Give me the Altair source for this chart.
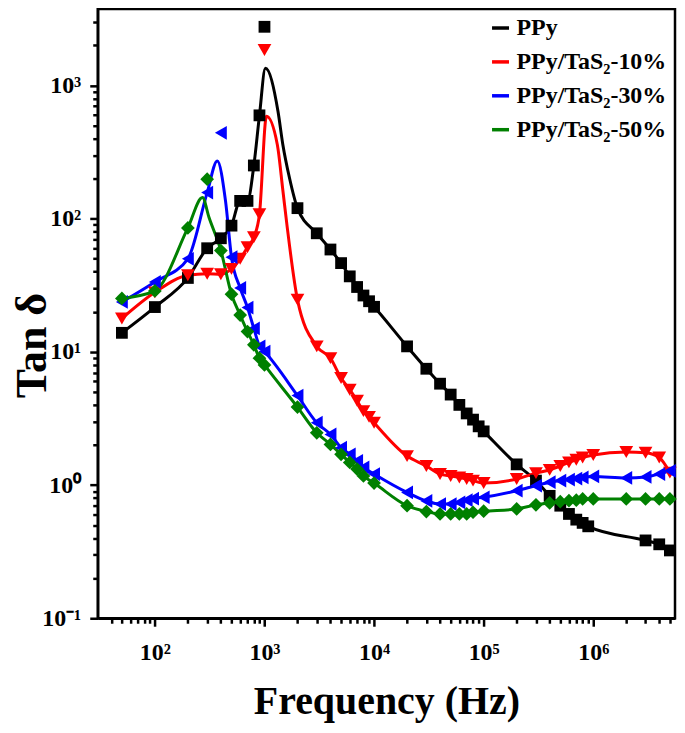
import altair as alt
import pandas as pd

# ---------------- data ----------------
series_names = ["PPy", "PPy/TaS\u2082-10%", "PPy/TaS\u2082-30%", "PPy/TaS\u2082-50%"]
series_colors = ["#000000", "#ff0000", "#0000ff", "#008000"]
series_shapes = ["square", "triangle-down", "triangle-left", "diamond"]

ppy_f = [50, 100, 200, 300, 400, 500, 600, 700, 800, 900, 1000, 2000, 3000, 4000, 5000, 6000,
         7000, 8000, 9000, 10000, 20000, 30000, 40000, 50000, 60000, 70000, 80000, 90000, 100000,
         200000, 300000, 400000, 500000, 600000, 700000, 800000, 900000, 3e6, 4e6, 5e6]
ppy_v = [13.9, 21.7, 35.9, 60, 71.3, 88.7, 136, 136, 251, 597, 2760, 120, 77.7, 58.7, 46.4, 36.9,
         30.7, 26.5, 24.0, 21.8, 11.0, 7.47, 5.77, 4.78, 4.0, 3.45, 3.1, 2.76, 2.53,
         1.43, 1.08, 0.83, 0.70, 0.607, 0.55, 0.52, 0.49, 0.384, 0.359, 0.323]
ppy_peak_f = [1000]                       # marker lying off the fitted curve
ppy_curve_f = [1020, 1328, 1470, 1690]    # extra points
ppy_curve_v = [1346, 640, 361, 203]

t10_f = [50, 100, 200, 300, 400, 500, 600, 700, 800, 900, 1000, 2000, 3000, 4000, 5000, 6000,
         7000, 8000, 9000, 10000, 20000, 30000, 40000, 50000, 60000, 70000, 80000, 100000,
         200000, 300000, 400000, 500000, 600000, 700000, 800000, 1e6, 2e6, 3e6, 4e6, 5e6]
t10_v = [17.8, 28, 37.6, 38.6, 38.3, 42, 50, 61, 72.6, 108, 1846, 24.7, 11.0, 8.97, 6.36, 5.2,
         4.3, 3.59, 3.25, 2.94, 1.65, 1.39, 1.21, 1.17, 1.14, 1.11, 1.08, 1.035,
         1.11, 1.23, 1.30, 1.39, 1.48, 1.55, 1.61, 1.68, 1.77, 1.75, 1.61, 1.24]
t10_peak_f = [1000]
t10_curve_f = [1043, 1309, 1473, 1600]
t10_curve_v = [587, 361, 162, 91]

t30_f = [50, 100, 200, 300, 400, 500, 600, 700, 800, 900, 1000, 2000, 3000, 4000, 5000, 6000,
         7000, 8000, 10000, 20000, 30000, 40000, 50000, 60000, 70000, 80000, 100000,
         200000, 300000, 400000, 500000, 600000, 700000, 800000, 1e6, 2e6, 3e6, 4e6, 5e6]
t30_v = [23.7, 33.5, 50, 157, 441, 51.4, 30.2, 21.5, 15.0, 11.0, 10.06, 4.7, 2.94, 2.4, 1.91, 1.70,
         1.52, 1.355, 1.21, 0.88, 0.76, 0.72, 0.72, 0.74, 0.77, 0.79, 0.81,
         0.907, 0.99, 1.05, 1.08, 1.10, 1.12, 1.14, 1.16, 1.13, 1.15, 1.21, 1.28]
t30_peak_f = [400]
t30_curve_f = [371, 441]
t30_curve_v = [271, 136]

t50_f = [50, 100, 200, 300, 400, 500, 600, 700, 800, 900, 1000, 2000, 3000, 4000, 5000, 6000,
         7000, 8000, 10000, 20000, 30000, 40000, 50000, 60000, 70000, 80000, 100000,
         200000, 300000, 400000, 500000, 600000, 700000, 800000, 1e6, 2e6, 3e6, 4e6, 5e6]
t50_v = [25.2, 28.7, 85.3, 198, 57.7, 27.1, 18.9, 14.2, 11.3, 8.97, 7.98, 3.85, 2.47, 2.02, 1.70, 1.48,
         1.32, 1.17, 1.035, 0.70, 0.632, 0.607, 0.607, 0.607, 0.607, 0.625, 0.636,
         0.662, 0.71, 0.734, 0.75, 0.763, 0.77, 0.786, 0.786, 0.786, 0.786, 0.786, 0.786]
t50_peak_f = [300]
t50_curve_f = [272, 312]
t50_curve_v = [144, 102]

x_major = [100, 1000, 10000, 100000, 1000000]
x_labels = ["10\u00b2", "10\u00b3", "10\u2074", "10\u2075", "10\u2076"]
y_major = [0.1, 1, 10, 100, 1000]
y_labels = ["10\u207b\u00b9", "10\u2070", "10\u00b9", "10\u00b2", "10\u00b3"]

x_domain = [30.1, 5.57e6]
y_domain = [0.1, 3750]

# ---------------- build tables ----------------
all_f = [ppy_f, t10_f, t30_f, t50_f]
all_v = [ppy_v, t10_v, t30_v, t50_v]
all_peak = [ppy_peak_f, t10_peak_f, t30_peak_f, t50_peak_f]
all_cf = [ppy_curve_f, t10_curve_f, t30_curve_f, t50_curve_f]
all_cv = [ppy_curve_v, t10_curve_v, t30_curve_v, t50_curve_v]

pts_rows, line_rows = [], []
for name, fs, vs, pk, cf, cv in zip(series_names, all_f, all_v, all_peak, all_cf, all_cv):
    for f, v in zip(fs, vs):
        pts_rows.append({"series": name, "f": f, "v": v})
        if f not in pk:
            line_rows.append({"series": name, "f": f, "v": v})
    for f, v in zip(cf, cv):
        line_rows.append({"series": name, "f": f, "v": v})
pts_df = pd.DataFrame(pts_rows)
line_df = pd.DataFrame(line_rows).sort_values(["series", "f"])

def minor_ticks(lo, hi):
    out = []
    d = 1e-2
    while d < 1e8:
        for m in range(1, 10):
            t = m * d
            if lo * 0.999 <= t <= hi * 1.001:
                out.append(round(t, 6))
        d *= 10
    return out

x_ticks = minor_ticks(*x_domain)
y_ticks = minor_ticks(*y_domain)

def label_expr(vals, labs):
    e = "''"
    for v, l in zip(vals, labs):
        e = f"abs(datum.value - {v}) < {v}*1e-6 ? '{l}' : ({e})"
    return e

major_test = "abs(log(datum.value)/LN10 - round(log(datum.value)/LN10)) < 1e-6"

FONT = "Liberation Serif"

x_axis = alt.Axis(values=x_ticks, labelExpr=label_expr(x_major, x_labels),
                  title="Frequency (Hz)", titleFont=FONT, titleFontSize=40, titleFontWeight="bold",
                  titleColor="black", titlePadding=18,
                  labelFont=FONT, labelFontWeight="bold", labelColor="black",
                  labelFontSize={"condition": {"test": major_test, "value": 24}, "value": 0},
                  labelPadding=14, labelFlush=False, labelOverlap=False,
                  tickSize={"condition": {"test": major_test, "value": 8}, "value": 5},
                  tickWidth=2.5, tickColor="black", domainColor="black", domainWidth=2.5,
                  grid=False)
y_axis = alt.Axis(values=y_ticks, labelExpr=label_expr(y_major, y_labels),
                  title="Tan \u03b4", titleFont=FONT, titleFontSize=44, titleFontWeight="bold",
                  titleColor="black", titlePadding=-13, titleY=337,
                  labelFont=FONT, labelFontWeight="bold", labelColor="black",
                  labelFontSize={"condition": {"test": major_test, "value": 24}, "value": 0},
                  labelPadding=9, labelFlush=False, labelOverlap=False,
                  tickSize={"condition": {"test": major_test, "value": 8}, "value": 5},
                  tickWidth=2.5, tickColor="black", domainColor="black", domainWidth=2.5,
                  grid=False)

xs = alt.Scale(type="log", domain=x_domain, nice=False)
ys = alt.Scale(type="log", domain=y_domain, nice=False)

lines = alt.Chart(line_df).mark_line(interpolate="monotone", strokeWidth=3).encode(
    x=alt.X("f:Q", scale=xs, axis=x_axis),
    y=alt.Y("v:Q", scale=ys, axis=y_axis),
    color=alt.Color("series:N",
                    scale=alt.Scale(domain=series_names, range=series_colors),
                    sort=series_names,
                    legend=alt.Legend(title=None, orient="none", legendX=392, legendY=7,
                                      symbolType="stroke", symbolSize=290, symbolStrokeWidth=3.5,
                                      labelFont=FONT, labelFontSize=24, labelFontWeight="bold",
                                      labelColor="black", labelOffset=4, rowPadding=10,
                                      padding=0, labelLimit=400)),
    order=alt.Order("f:Q"),
)

point_layers = []
for name, col, shp in zip(series_names, series_colors, series_shapes):
    sz = 140 if shp == "square" else 190
    point_layers.append(
        alt.Chart(pts_df).transform_filter(alt.datum.series == name)
        .mark_point(filled=True, opacity=1, size=sz, shape=shp, color=col)
        .encode(x=alt.X("f:Q", scale=xs), y=alt.Y("v:Q", scale=ys))
    )

chart = alt.layer(lines, *point_layers).properties(
    width=579, height=611,
    padding={"top": 0, "left": 2, "right": 0, "bottom": 0},
    background="white",
).configure_view(stroke="black", strokeWidth=2.5)

chart.save("out.html", embed_options={"renderer": "svg", "actions": False})
